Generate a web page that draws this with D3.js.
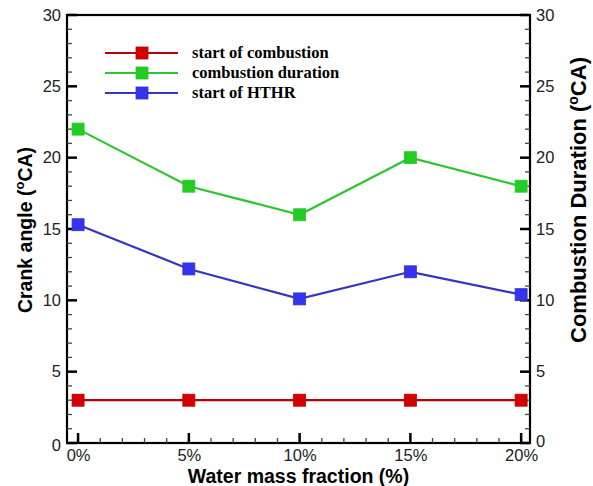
<!DOCTYPE html>
<html>
<head>
<meta charset="utf-8">
<script src="https://cdn.jsdelivr.net/npm/d3@7"></script>
<style>
  body { margin: 0; background: #fff; }
</style>
</head>
<body>
<div id="chart"></div>
<script>
// data
var waterFractions = [0, 5, 10, 15, 20];
var startOfCombustion = [3, 3, 3, 3, 3];
var combustionDuration = [22, 18, 16, 20, 18];
var startOfHTHR = [15.3, 12.2, 10.1, 12.0, 10.4];
var yTicks = [0, 5, 10, 15, 20, 25, 30];

var series = [
    {name: "start of combustion", values: startOfCombustion, line: "#b80000", fill: "#d40000"},
    {name: "combustion duration", values: combustionDuration, line: "#2ec52e", fill: "#22cc22"},
    {name: "start of HTHR", values: startOfHTHR, line: "#3535c0", fill: "#3333f0"}
];

var width = 593, height = 486;
var margin = {top: 15, right: 63, bottom: 43, left: 67};
var w = width - margin.left - margin.right;
var h = height - margin.top - margin.bottom;

var svg = d3.select("#chart").append("svg")
    .attr("width", width)
    .attr("height", height);

var g = svg.append("g")
    .attr("transform", "translate(" + margin.left + "," + margin.top + ")");

var x = d3.scaleLinear().domain([-0.5, 20.4]).range([0, w]);
var y = d3.scaleLinear().domain([0, 30]).range([h, 0]);

var minorY = d3.range(0, 31, 1).filter(function(d) { return d % 5 != 0; });
var minorX = d3.range(0, 21, 1).filter(function(d) { return d % 5 != 0; });
var tickFont = "Arial, 'Liberation Sans', sans-serif";

// frame
g.append("rect")
    .attr("width", w).attr("height", h)
    .attr("fill", "none")
    .attr("stroke", "#000")
    .attr("stroke-width", 2.2);

// tick marks as thin rects, all pointing inward
var tickData = [];
yTicks.concat(minorY).forEach(function(d) {
    var len = d % 5 == 0 ? 10 : 5, th = d % 5 == 0 ? 2.5 : 1.3;
    tickData.push({x: 0, y: y(d) - th / 2, w: len, h: th, major: d % 5 == 0});
    tickData.push({x: w - len, y: y(d) - th / 2, w: len, h: th, major: d % 5 == 0});
});
waterFractions.concat(minorX).forEach(function(d) {
    var len = d % 5 == 0 ? 10 : 5, th = d % 5 == 0 ? 2.5 : 1.3;
    tickData.push({x: x(d) - th / 2, y: h - len, w: th, h: len, major: d % 5 == 0});
});
g.append("g").selectAll("rect")
    .data(tickData)
    .enter().append("rect")
    .attr("x", function(d) { return d.x; })
    .attr("y", function(d) { return d.y; })
    .attr("width", function(d) { return d.w; })
    .attr("height", function(d) { return d.h; })
    .attr("fill", function(d) { return d.major ? "#000" : "#444"; });

// tick labels through the axes
var left = g.append("g")
    .call(d3.axisLeft(y).tickValues(yTicks).tickSize(0).tickPadding(6));
var right = g.append("g")
    .attr("transform", "translate(" + w + ",0)")
    .call(d3.axisRight(y).tickValues(yTicks).tickSize(0).tickPadding(6));
var bottom = g.append("g")
    .attr("transform", "translate(0," + h + ")")
    .call(d3.axisBottom(x).tickValues(waterFractions).tickSize(0).tickPadding(6)
        .tickFormat(function(d) { return d + "%"; }));

[left, right, bottom].forEach(function(a) {
    a.select(".domain").remove();
    a.selectAll("text")
        .attr("font-family", tickFont)
        .attr("font-size", 16.5)
        .attr("fill", "#222");
});
left.selectAll(".tick text").filter(function(d) { return d == 0; }).attr("dy", "0.45em");
right.selectAll(".tick text").filter(function(d) { return d == 0; }).attr("dy", "0.2em");

// lines and markers
var line = d3.line()
    .x(function(d, i) { return x(waterFractions[i]); })
    .y(function(d) { return y(d); });

series.forEach(function(s) {
    g.append("path")
        .datum(s.values)
        .attr("d", line)
        .attr("fill", "none")
        .attr("stroke", s.line)
        .attr("stroke-width", 2.2);
    g.selectAll(null)
        .data(s.values)
        .enter().append("rect")
        .attr("x", function(d, i) { return x(waterFractions[i]) - 6; })
        .attr("y", function(d) { return y(d) - 6; })
        .attr("width", 12)
        .attr("height", 12)
        .attr("fill", s.fill)
        .attr("stroke", s.line)
        .attr("stroke-width", 0.8);
});

// legend
var legend = svg.append("g")
    .attr("transform", "translate(105,53)");
var rows = legend.selectAll("g")
    .data(series)
    .enter().append("g")
    .attr("transform", function(d, i) { return "translate(0," + (i * 20) + ")"; });
rows.append("line")
    .attr("x1", 0).attr("x2", 73)
    .attr("stroke", function(d) { return d.line; })
    .attr("stroke-width", 2);
rows.append("rect")
    .attr("x", 31).attr("y", -6)
    .attr("width", 12).attr("height", 12)
    .attr("fill", function(d) { return d.fill; })
    .attr("stroke", function(d) { return d.line; })
    .attr("stroke-width", 0.8);
rows.append("text")
    .attr("x", 87).attr("y", 5)
    .attr("font-family", "'Liberation Serif', 'Times New Roman', serif")
    .attr("font-weight", "bold")
    .attr("font-size", 16.5)
    .text(function(d) { return d.name; });

// axis titles
svg.append("text")
    .attr("x", margin.left + w / 2).attr("y", 483)
    .attr("text-anchor", "middle")
    .attr("font-family", tickFont).attr("font-weight", "bold").attr("font-size", 19.5)
    .text("Water mass fraction (%)");

var leftTitle = svg.append("text")
    .attr("transform", "translate(32,230) rotate(-90)")
    .attr("text-anchor", "middle")
    .attr("font-family", tickFont).attr("font-weight", "bold").attr("font-size", 19.5);
leftTitle.append("tspan").text("Crank angle (");
leftTitle.append("tspan").attr("font-size", 13).attr("dy", -8).text("o");
leftTitle.append("tspan").attr("dy", 8).text("CA)");

var rightTitle = svg.append("text")
    .attr("transform", "translate(586,200) rotate(-90)")
    .attr("text-anchor", "middle")
    .attr("font-family", tickFont).attr("font-weight", "bold").attr("font-size", 22);
rightTitle.append("tspan").text("Combustion Duration (");
rightTitle.append("tspan").attr("font-size", 14).attr("dy", -8).text("o");
rightTitle.append("tspan").attr("dy", 8).text("CA)");
</script>
</body>
</html>
